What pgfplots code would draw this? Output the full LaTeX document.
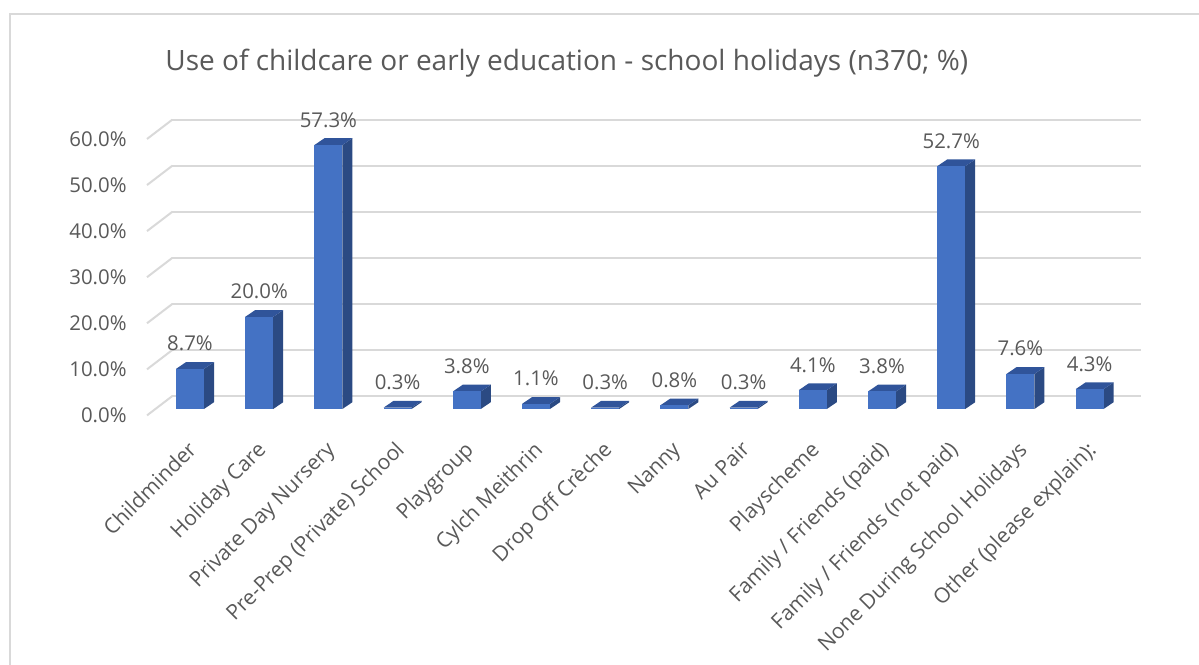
\documentclass[border=0pt]{standalone}
\usepackage{pgfplots}
\pgfplotsset{compat=1.18}
\usepackage{pgfplotstable}
\usepackage{fontspec}
\setmainfont{Open Sans}
\definecolor{txt}{HTML}{595959}
\definecolor{gridc}{HTML}{D9D9D9}
\definecolor{barfront}{HTML}{4472C4}
\definecolor{bartop}{HTML}{30549A}
\definecolor{barside}{HTML}{2B4A83}

\pgfplotstableread[col sep=comma]{
idx,val
0,8.7
1,20.0
2,57.3
3,0.3
4,3.8
5,1.1
6,0.3
7,0.8
8,0.3
9,4.1
10,3.8
11,52.7
12,7.6
13,4.3
}\datatable

% 3D bar mark: front face + side + top; height from the data value
\pgfdeclareplotmark{bar3d}{%
  \pgfmathsetmacro\hh{\rawv*2.30333}%
  \pgfsetfillcolor{barside}%
  \pgfpathmoveto{\pgfpoint{7pt}{-\hh pt}}%
  \pgfpathlineto{\pgfpoint{7pt}{0pt}}%
  \pgfpathlineto{\pgfpoint{12pt}{3.4pt}}%
  \pgfpathlineto{\pgfpoint{12pt}{-\hh pt+3.4pt}}%
  \pgfpathclose
  \pgfusepath{fill}%
  \pgfsetfillcolor{bartop}%
  \pgfpathmoveto{\pgfpoint{-7pt}{0pt}}%
  \pgfpathlineto{\pgfpoint{7pt}{0pt}}%
  \pgfpathlineto{\pgfpoint{12pt}{3.4pt}}%
  \pgfpathlineto{\pgfpoint{-2pt}{3.4pt}}%
  \pgfpathclose
  \pgfusepath{fill}%
  \pgfsetfillcolor{barfront}%
  \pgfpathrectanglecorners{\pgfpoint{-7pt}{-\hh pt}}{\pgfpoint{7pt}{0pt}}%
  \pgfusepath{fill}%
}

\begin{document}
\begin{tikzpicture}
\useasboundingbox (0,0) rectangle (599.5pt,332pt);
% chart frame
\draw[gridc, line width=0.9pt] (5pt,-2pt) -- (5pt,325pt) -- (602pt,325pt);
% title
\node[anchor=base west, inner sep=0pt, text=txt, font=\fontsize{14}{17}\selectfont]
  at (82.5pt,296.5pt) {Use of childcare or early education - school holidays (n370; \%)};
\begin{axis}[
  at={(77.7pt,127.5pt)}, anchor=south west,
  x=34.6pt, y=2.30333pt,
  xmin=-0.5, xmax=13.5, ymin=0, ymax=60,
  clip=false,
  axis line style={draw=none},
  major tick style={draw=none},
  ytick={0,10,20,30,40,50,60},
  ymajorgrids,
  major grid style={draw=gridc, line width=1pt, xshift=8.5pt, yshift=6.5pt},
  /pgf/number format/assume math mode=true,
  yticklabel={\pgfmathprintnumber[fixed,fixed zerofill,precision=1]{\tick}\%},
  yticklabel style={anchor=east, inner sep=0pt, xshift=-14.2pt, yshift=-3.2pt,
    text=txt, font=\fontsize{10.2}{12}\selectfont},
  xtick={0,...,13},
  xticklabels={Childminder, Holiday Care, Private Day Nursery, Pre-Prep (Private) School,
    Playgroup, Cylch Meithrin, Drop Off Crèche, Nanny, Au Pair, Playscheme,
    Family / Friends (paid), Family / Friends (not paid), None During School Holidays,
    Other (please explain):},
  xticklabel style={rotate=45, anchor=north east, inner sep=0pt, xshift=-12pt, yshift=-9.5pt,
    text=txt, font=\fontsize{10.5}{13}\selectfont},
]
\pgfplotsinvokeforeach{0,10,20,30,40,50,60}{
  \draw[gridc, line width=1pt] ([xshift=-4.2pt,yshift=-3.2pt]axis cs:-0.5,#1) -- ([xshift=8.5pt,yshift=6.5pt]axis cs:-0.5,#1);
}
\addplot[scatter, only marks, mark=bar3d,
  scatter/use mapped color={draw=none, fill=none},
  visualization depends on={rawy \as \rawv},
  point meta=explicit,
  nodes near coords={\pgfmathprintnumber[fixed,fixed zerofill,precision=1]{\pgfplotspointmeta}\%},
  nodes near coords style={anchor=base, inner sep=0pt, yshift=9pt, text=txt,
    font=\fontsize{10.2}{12}\selectfont},
] table[x=idx, y=val, meta=val] {\datatable};
\end{axis}
\end{tikzpicture}
\end{document}
